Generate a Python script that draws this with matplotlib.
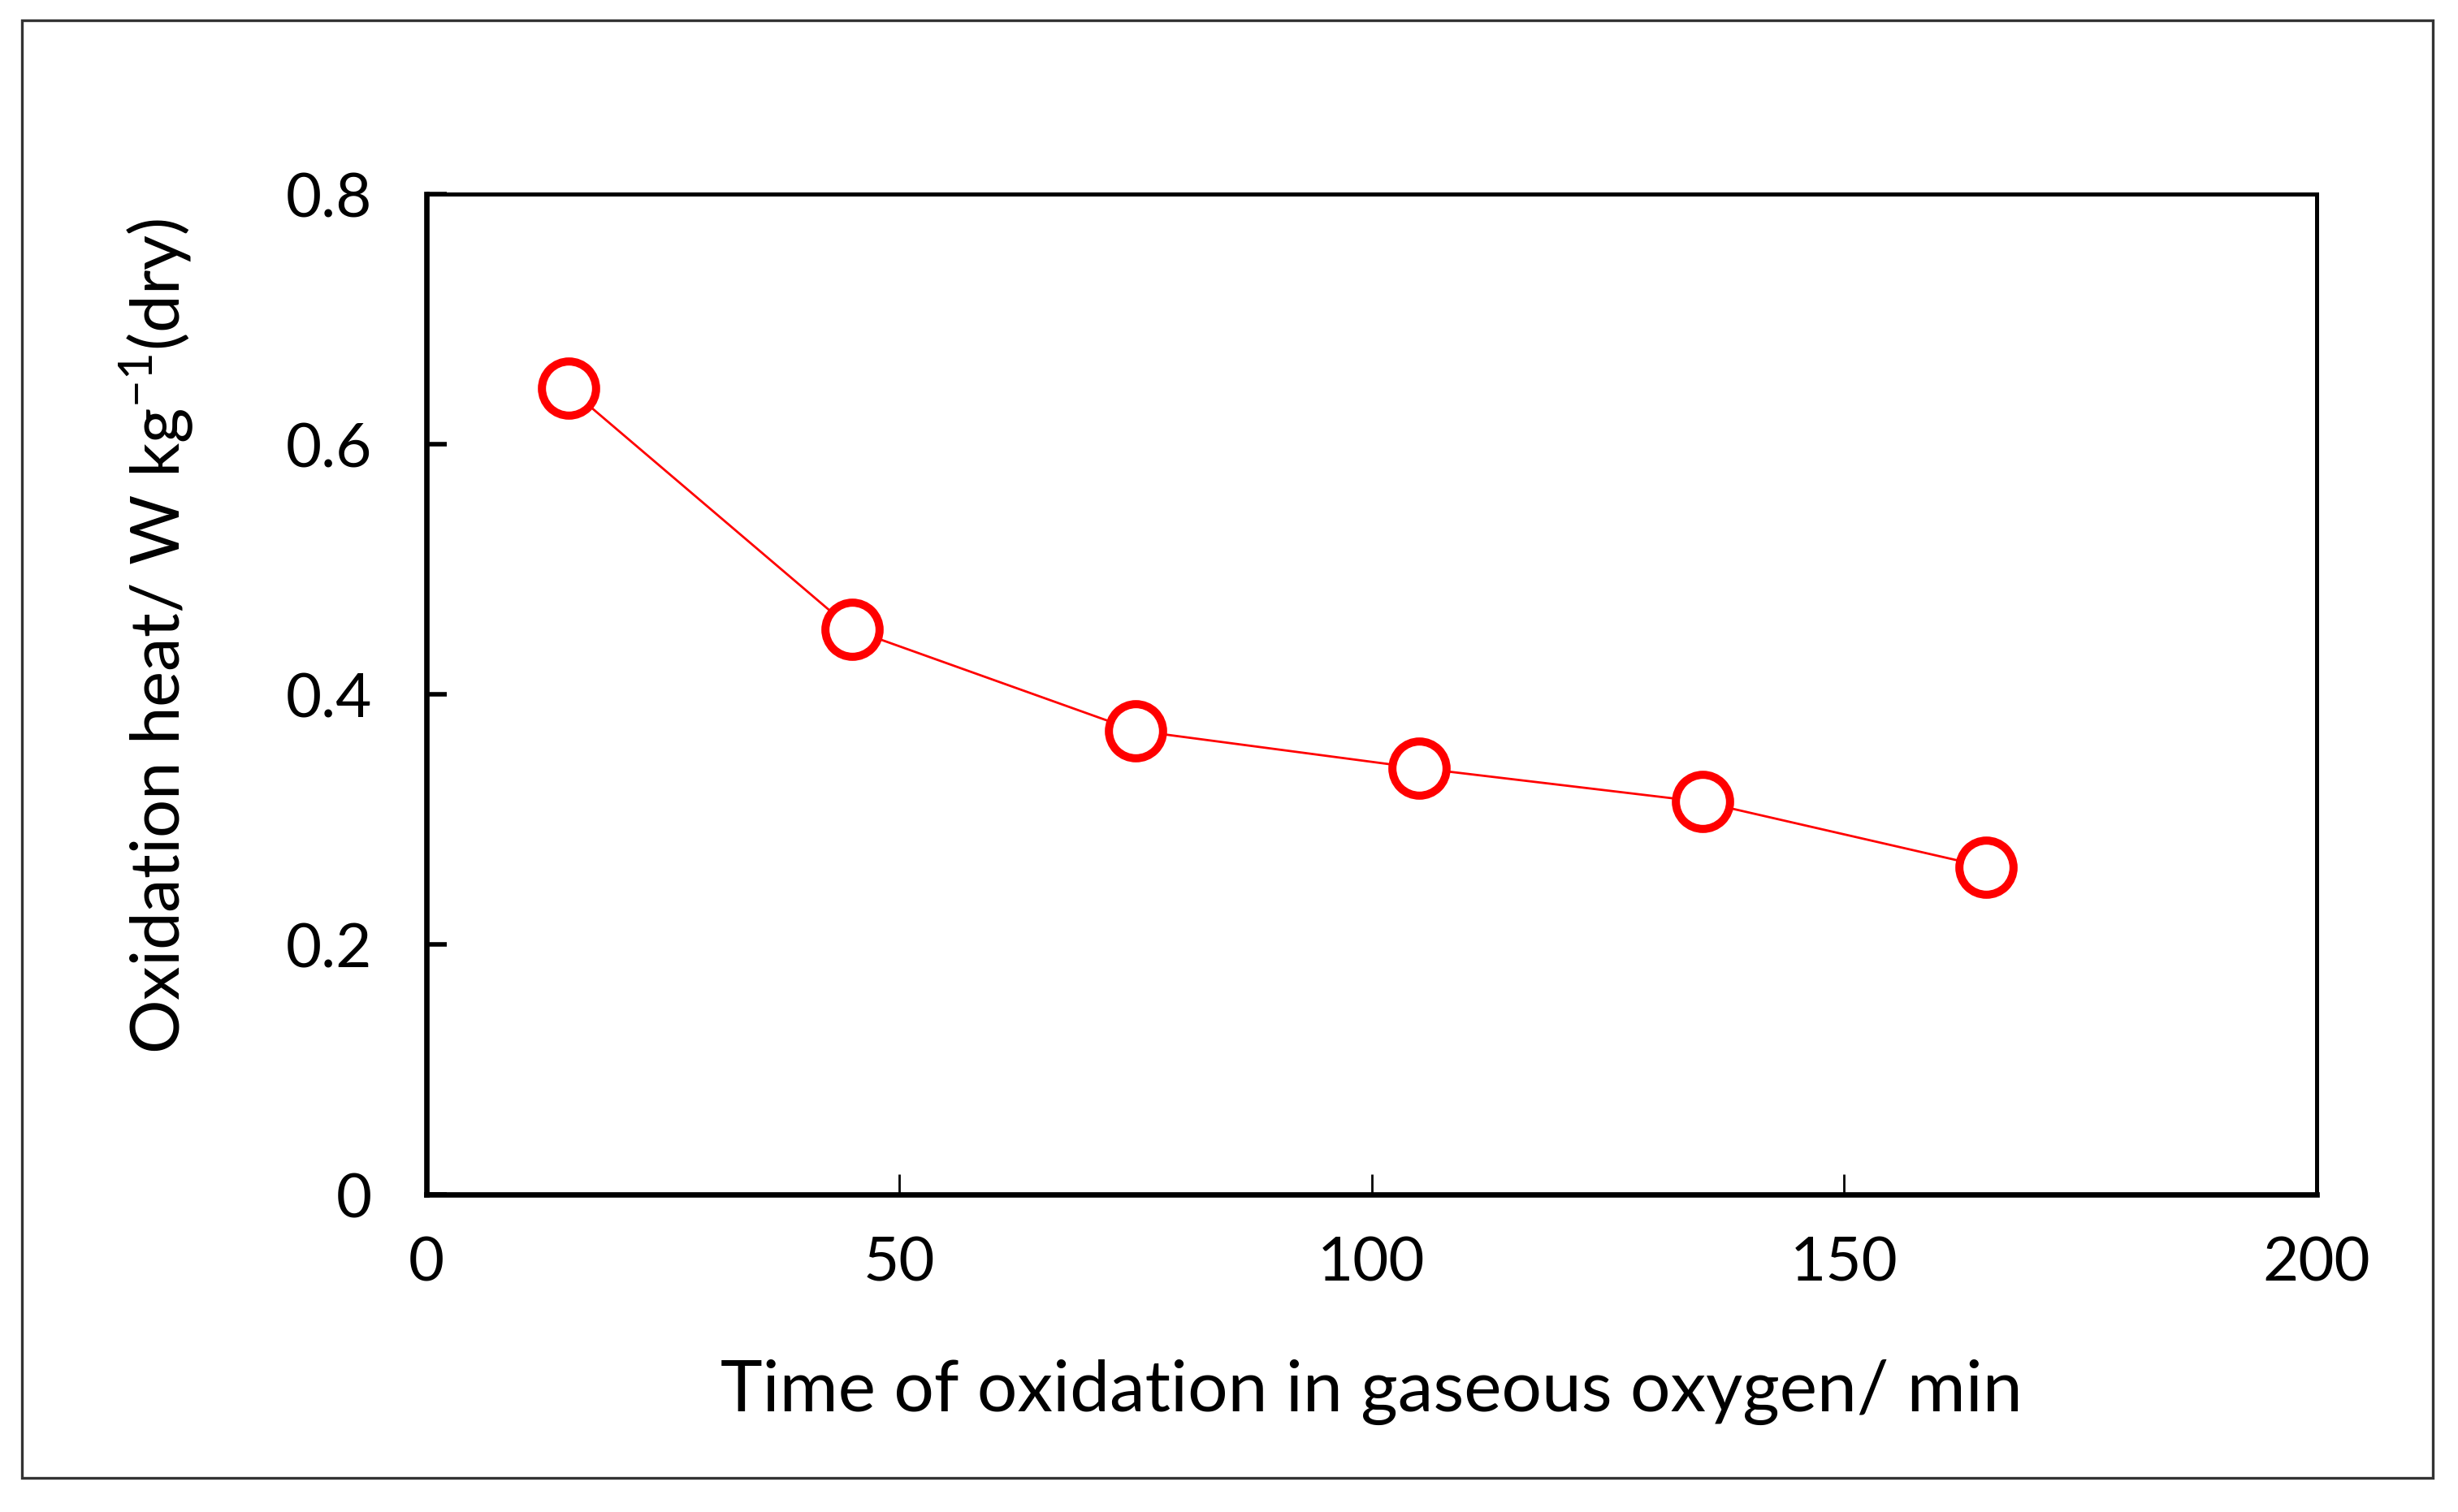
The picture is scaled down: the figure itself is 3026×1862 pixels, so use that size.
import matplotlib

matplotlib.use("Agg")
import matplotlib.pyplot as plt
from matplotlib.patches import Rectangle

# values
time_min = [15, 45, 75, 105, 135, 165]
heat = [0.645, 0.452, 0.371, 0.341, 0.314, 0.262]
x_ticks = [0, 50, 100, 150, 200]
y_ticks = [0, 0.2, 0.4, 0.6, 0.8]
y_tick_labels = ["0", "0.2", "0.4", "0.6", "0.8"]

plt.rcParams["font.family"] = ["Lato", "DejaVu Sans"]
plt.rcParams["mathtext.fontset"] = "custom"
plt.rcParams["mathtext.rm"] = "Lato"

fig = plt.figure(figsize=(15.13, 9.31), dpi=200)
ax = fig.add_axes([525 / 3026, 1 - 1471 / 1862, (2852 - 525) / 3026, (1471 - 239) / 1862])

ax.plot(time_min, heat, "-", color="#ff0000", lw=1.0, marker="o", ms=24,
        mfc="white", mec="#ff0000", mew=3.6, clip_on=False, zorder=3)

ax.set_xlim(0, 200)
ax.set_ylim(0, 0.8)
ax.set_xticks(x_ticks)
ax.set_yticks(y_ticks)
ax.set_yticklabels(y_tick_labels)

for s in ax.spines.values():
    s.set_linewidth(1.8)
    s.set_color("black")
ax.spines["left"].set_linewidth(2.4)
ax.spines["bottom"].set_linewidth(2.4)

ax.tick_params(axis="both", direction="in", labelsize=27.5, color="black")
ax.tick_params(axis="y", length=9, width=2.0, pad=24)
ax.tick_params(axis="x", length=9, width=1.0, pad=18)

ax.set_xlabel("Time of oxidation in gaseous oxygen/ min", fontsize=31.5)
ax.set_ylabel("Oxidation heat/ W kg$^{\\mathrm{-1}}$(dry)", fontsize=30)
ax.xaxis.set_label_coords(0.5, -0.198)
ax.yaxis.set_label_coords(-0.143, 0.558)
ax.xaxis.label.set_va("center")
ax.yaxis.label.set_va("center")

# thin frame around the whole picture
fig.patches.append(Rectangle((27 / 3026, 1 - 1820 / 1862), (2995 - 27) / 3026,
                             (1820 - 25) / 1862, transform=fig.transFigure,
                             fill=False, ec="#333333", lw=1.2))

fig.savefig("out.png", dpi=200)
